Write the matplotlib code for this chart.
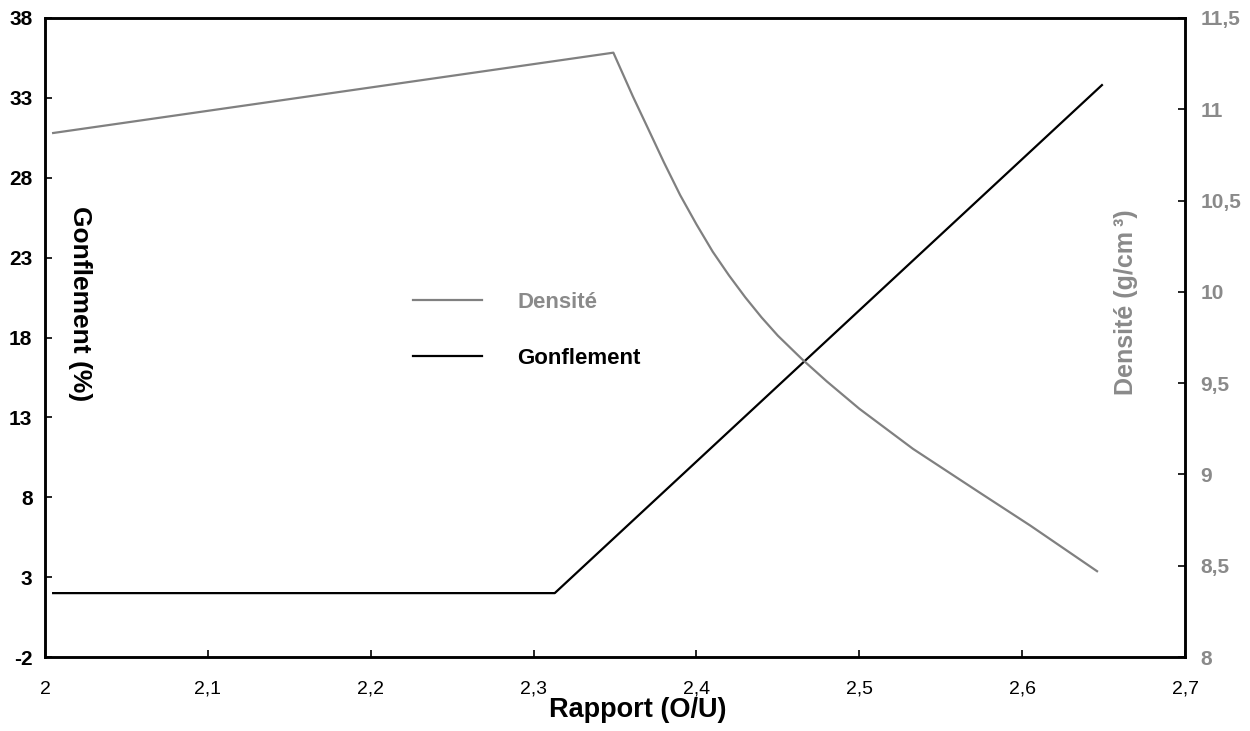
import matplotlib
matplotlib.use("Agg")
import matplotlib.pyplot as plt
import matplotlib.ticker as ticker
from matplotlib.lines import Line2D

plt.rcParams["font.family"] = ["Liberation Sans", "DejaVu Sans"]
plt.rcParams["axes.unicode_minus"] = False

# ── Data ──────────────────────────────────────────────────────────────────────
ratio_gonfl = [2.005, 2.313, 2.649]
gonflement  = [2.0, 2.0, 33.8]

ratio_dens = [2.005, 2.349, 2.361, 2.370, 2.380, 2.390, 2.400, 2.410, 2.420,
              2.430, 2.440, 2.450, 2.465, 2.480, 2.500, 2.533, 2.574, 2.605,
              2.646]
densite    = [10.87, 11.31, 11.07, 10.90, 10.71, 10.53, 10.37, 10.22, 10.09,
              9.97, 9.86, 9.76, 9.63, 9.51, 9.36, 9.14, 8.90, 8.72,
              8.47]

x_ticks     = [2.0, 2.1, 2.2, 2.3, 2.4, 2.5, 2.6, 2.7]
left_ticks  = [-2, 3, 8, 13, 18, 23, 28, 33, 38]
right_ticks = [8, 8.5, 9, 9.5, 10, 10.5, 11, 11.5]

GRAY  = "#808080"
TGRAY = "#8a8a8a"


def comma(v, pos=None):
    return f"{v:g}".replace(".", ",")


fig = plt.figure(figsize=(12.5, 7.31), dpi=100, facecolor="white")
ax = fig.add_axes([0.036, 0.1012, 0.912, 0.8742])
ax2 = ax.twinx()

ax.plot(ratio_gonfl, gonflement, color="black", lw=1.6, zorder=3)
ax2.plot(ratio_dens, densite, color=GRAY, lw=1.6, zorder=3)

ax.set_xlim(2.0, 2.7)
ax.set_ylim(-2, 38)
ax2.set_ylim(8, 11.5)

ax.set_xticks(x_ticks)
ax.set_yticks(left_ticks)
ax2.set_yticks(right_ticks)
ax.xaxis.set_major_formatter(ticker.FuncFormatter(comma))
ax2.yaxis.set_major_formatter(ticker.FuncFormatter(comma))

ax.tick_params(axis="x", direction="in", length=5, width=1.2, pad=17,
               labelsize=14)
ax.tick_params(axis="y", direction="in", length=5, width=1.2, pad=9,
               labelsize=15)
ax2.tick_params(axis="y", direction="in", length=5, width=1.2, pad=11,
                labelsize=15, labelcolor=TGRAY)
for lab in ax.get_yticklabels() + ax2.get_yticklabels():
    lab.set_fontweight("bold")

for a in (ax, ax2):
    for sp in a.spines.values():
        sp.set_linewidth(1.8)

ax.text(0.520, -0.083, "Rapport (O/U)", transform=ax.transAxes,
        ha="center", va="center", fontsize=19.5, fontweight="bold")

ax.text(0.031, 0.553, "Gonflement (%)", transform=ax.transAxes,
        rotation=270, ha="center", va="center",
        fontsize=19, fontweight="bold", color="black")
ax.text(0.948, 0.556, "Densité (g/cm\u2009³)", transform=ax.transAxes,
        rotation=90, ha="center", va="center",
        fontsize=18, fontweight="bold", color=TGRAY)

handles = [Line2D([], [], color=GRAY, lw=1.6),
           Line2D([], [], color="black", lw=1.6)]
leg = ax2.legend(handles, ["Densité", "Gonflement"],
                 loc="center left", bbox_to_anchor=(0.3228, 0.511),
                 frameon=False, fontsize=16, handlelength=3.1,
                 handletextpad=1.6, labelspacing=1.57,
                 borderpad=0, borderaxespad=0)
for txt, col in zip(leg.get_texts(), [TGRAY, "black"]):
    txt.set_color(col)
    txt.set_fontweight("bold")

fig.savefig("out.png", dpi=100, facecolor="white")
